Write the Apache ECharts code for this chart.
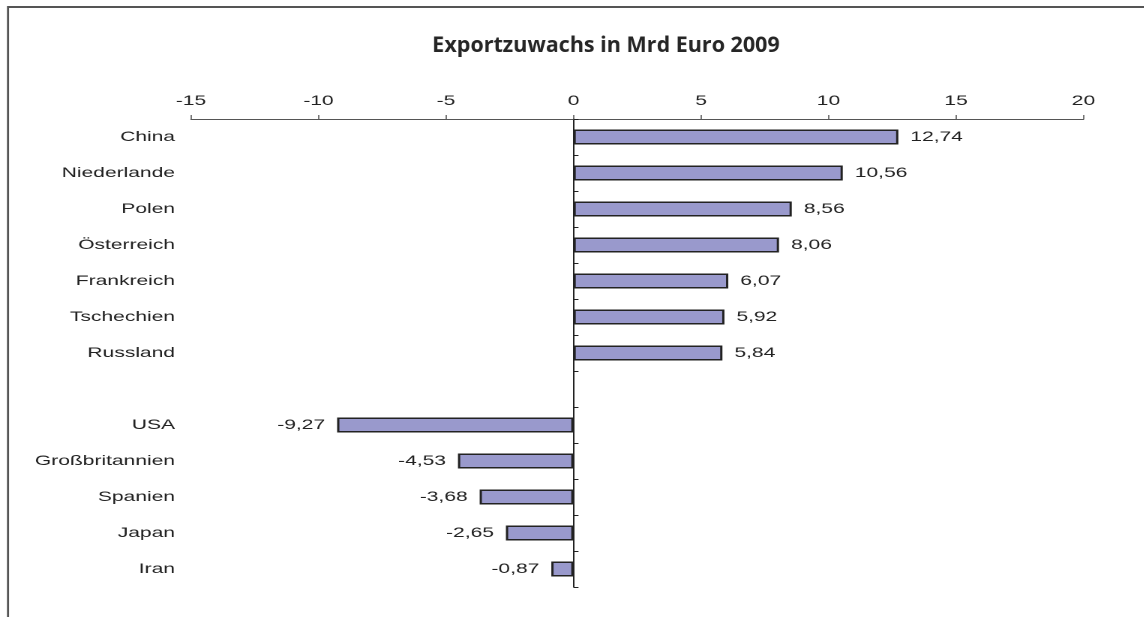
<!DOCTYPE html>
<html>
<head>
<meta charset="utf-8">
<script src="https://cdn.jsdelivr.net/npm/echarts@6/dist/echarts.min.js"></script>
<style>
html,body{margin:0;padding:0;background:#fff;overflow:hidden;}
#wrap{width:1144px;height:617px;overflow:hidden;}
#chart{height:617px;transform-origin:0 0;}
</style>
</head>
<body>
<div id="wrap"><div id="chart"></div></div>
<script>
const titleText = 'Exportzuwachs in Mrd Euro 2009';
const categories = ['China','Niederlande','Polen','Österreich','Frankreich','Tschechien','Russland','','USA','Großbritannien','Spanien','Japan','Iran'];
const values = [12.74, 10.56, 8.56, 8.06, 6.07, 5.92, 5.84, '-', -9.27, -4.53, -3.68, -2.65, -0.87];
const axisMin = -15, axisMax = 20, axisStep = 5;

// the reference's lettering is horizontally stretched: draw narrower, widen with CSS
const SX = 1.5;
const el = document.getElementById('chart');
el.style.width = (1144 / SX) + 'px';
el.style.transform = 'scaleX(' + SX + ')';

const chart = echarts.init(el, null, {devicePixelRatio: 2});
const fmt = v => v.toFixed(2).replace('.', ',');
const dataWithLabels = values.map(v => (typeof v === 'number' && v < 0) ? {value: v, label: {position: 'left'}} : v);
const labelFont = {color: '#222', fontSize: 14, fontFamily: 'Liberation Sans'};

chart.setOption({
  animation: false,
  backgroundColor: '#fff',
  graphic: [
    {type: 'line', shape: {x1: 8 / SX, y1: 7, x2: 1144 / SX + 10, y2: 7}, style: {stroke: '#555', lineWidth: 2}, silent: true},
    {type: 'line', shape: {x1: 8 / SX, y1: 6, x2: 8 / SX, y2: 640}, style: {stroke: '#555', lineWidth: 1.4}, silent: true},
    {type: 'text', x: 606 / SX, y: 35, scaleX: 1 / SX, silent: true,
     style: {text: titleText, font: 'bold 21.5px "Open Sans"', fill: '#262626', align: 'center', verticalAlign: 'top'}}
  ],
  grid: {left: 191 / SX, right: 61 / SX, top: 119, bottom: 30},
  xAxis: {
    type: 'value', position: 'top', min: axisMin, max: axisMax, interval: axisStep,
    splitLine: {show: false},
    axisLine: {show: true, onZero: false, lineStyle: {color: '#555', width: 1}},
    axisTick: {show: true, length: 4, lineStyle: {color: '#555', width: 0.8}},
    axisLabel: Object.assign({margin: 11}, labelFont)
  },
  yAxis: [
    {
      type: 'category', data: categories, inverse: true, position: 'left',
      axisLine: {show: false, onZero: false}, axisTick: {show: false},
      axisLabel: Object.assign({margin: 16 / SX}, labelFont)
    },
    {
      type: 'category', data: categories, inverse: true, position: 'left',
      axisLine: {show: true, onZero: true, lineStyle: {color: '#222', width: 1}},
      axisTick: {show: true, inside: true, length: 5 / SX, lineStyle: {color: '#222'}},
      axisLabel: {show: false}
    }
  ],
  series: [{
    type: 'bar', yAxisIndex: 0, data: dataWithLabels, barWidth: 15,
    itemStyle: {color: '#9999CC', borderColor: '#222', borderWidth: 1.5},
    label: Object.assign({show: true, position: 'right', distance: 8, formatter: p => fmt(p.value)}, labelFont)
  }]
});
</script>
</body>
</html>
